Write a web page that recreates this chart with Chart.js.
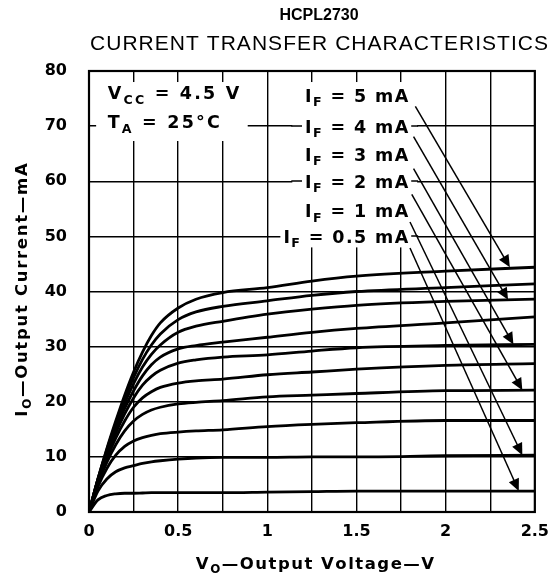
<!DOCTYPE html>
<html>
<head>
<meta charset="utf-8">
<script src="https://cdn.jsdelivr.net/npm/chart.js@4.4.1/dist/chart.umd.min.js"></script>
<style>
  html, body { margin: 0; padding: 0; background: #fff; }
  canvas { display: block; }
</style>
</head>
<body>
<canvas id="ctc" width="559" height="579"></canvas>
<script>
// output voltage samples (V), shared by every curve
const voltages = [0, 0.05, 0.1, 0.15, 0.2, 0.25, 0.3, 0.35, 0.4, 0.5, 0.6, 0.75, 1, 1.25, 1.5, 2, 2.5];

// output current (mA), one list per forward current
const io_5mA   = [0, 6.0, 11.5, 16.5, 21.2, 25.4, 29.0, 32.0, 34.3, 37.0, 38.6, 39.8, 40.7, 41.9, 42.8, 43.7, 44.4];
const io_4_5mA = [0, 6.0, 11.3, 16.0, 20.5, 24.4, 27.7, 30.3, 32.3, 34.9, 36.3, 37.3, 38.3, 39.3, 40.0, 40.7, 41.4];
const io_4mA   = [0, 5.9, 11.0, 15.5, 19.7, 23.3, 26.3, 28.6, 30.3, 32.6, 33.7, 34.6, 35.9, 36.8, 37.5, 38.2, 38.6];
const io_3_5mA = [0, 5.8, 10.6, 15.0, 18.8, 22.0, 24.7, 26.7, 28.1, 29.6, 30.2, 30.8, 31.7, 32.6, 33.3, 34.3, 35.4];
const io_3mA   = [0, 5.6, 10.2, 14.3, 17.8, 20.7, 23.0, 24.6, 25.7, 27.0, 27.6, 28.1, 28.5, 29.2, 29.8, 30.2, 30.4];
const io_2_5mA = [0, 5.4, 9.7, 13.4, 16.5, 19.0, 20.7, 21.8, 22.6, 23.4, 23.8, 24.1, 24.9, 25.4, 25.9, 26.6, 26.9];
const io_2mA   = [0, 5.1, 9.0, 12.2, 14.7, 16.5, 17.7, 18.5, 19.0, 19.6, 19.9, 20.2, 20.9, 21.2, 21.5, 22.0, 22.1];
const io_1_5mA = [0, 4.6, 7.9, 10.3, 11.9, 12.9, 13.5, 13.9, 14.2, 14.5, 14.7, 14.9, 15.5, 15.9, 16.2, 16.6, 16.6];
const io_1mA   = [0, 3.8, 6.0, 7.3, 8.0, 8.4, 8.8, 9.1, 9.3, 9.6, 9.8, 9.9, 9.9, 10.0, 10.0, 10.2, 10.3];
const io_0_5mA = [0, 2.2, 3.0, 3.3, 3.4, 3.4, 3.45, 3.5, 3.5, 3.5, 3.5, 3.5, 3.6, 3.7, 3.8, 3.8, 3.8];

const forwardCurrents = ['5', '4.5', '4', '3.5', '3', '2.5', '2', '1.5', '1', '0.5'];
const currentSeries = [io_5mA, io_4_5mA, io_4mA, io_3_5mA, io_3mA, io_2_5mA, io_2mA, io_1_5mA, io_1mA, io_0_5mA];

const xTickLabels = ['0', '0.5', '1', '1.5', '2', '2.5'];
const yTickLabels = ['0', '10', '20', '30', '40', '50', '60', '70', '80'];

// labelled curves and where their leader arrows run (data units)
const labelledIF   = ['5', '4', '3', '2', '1', '0.5'];
const labelMidY    = [75.6, 70, 64.9, 60, 54.7, 50];
const arrowStartX  = [1.83, 1.82, 1.82, 1.81, 1.80, 1.80];
const arrowStartY  = [73.6, 68.1, 62.3, 57.6, 52.6, 47.9];
const arrowEndX    = [2.36, 2.35, 2.38, 2.43, 2.43, 2.41];
const arrowEndY    = [44.4, 38.5, 30.4, 22.1, 10.3, 3.8];

const FONT = '"DejaVu Sans", sans-serif';

function partFont(p, size) {
  return 'bold ' + (p.sub ? size * 0.72 : size) + 'px ' + FONT;
}

function richWidth(ctx, parts, size, spacing) {
  let w = 0;
  for (const p of parts) {
    ctx.font = partFont(p, size);
    for (const ch of p.t) w += ctx.measureText(ch).width + spacing;
  }
  return w - spacing;
}

// midY = middle of the capitals
function drawRich(ctx, parts, x, midY, size, spacing, align, bg) {
  const w = richWidth(ctx, parts, size, spacing);
  let cx = align === 'right' ? x - w : align === 'center' ? x - w / 2 : x;
  if (bg) {
    ctx.fillStyle = '#fff';
    ctx.fillRect(cx - 3, midY - size * 0.48, w + 6, size * 1.05);
  }
  ctx.fillStyle = '#000';
  ctx.textAlign = 'left';
  ctx.textBaseline = 'alphabetic';
  for (const p of parts) {
    ctx.font = partFont(p, size);
    const base = midY + size * 0.365 + (p.sub ? size * 0.27 : 0);
    for (const ch of p.t) {
      ctx.fillText(ch, cx, base);
      cx += ctx.measureText(ch).width + spacing;
    }
  }
}

function spacedText(ctx, text, left, right, baseline) {
  let w = 0;
  for (const ch of text) w += ctx.measureText(ch).width;
  const gap = (right - left - w) / (text.length - 1);
  let cx = left;
  for (const ch of text) {
    ctx.fillText(ch, cx, baseline);
    cx += ctx.measureText(ch).width + gap;
  }
}

const decor = {
  id: 'decor',
  beforeDatasetsDraw(chart) {
    const { ctx, scales: { x, y } } = chart;
    ctx.save();
    ctx.fillStyle = '#fff';
    // blank the grid behind the two text blocks
    ctx.fillRect(x.getPixelForValue(0.04), y.getPixelForValue(78), x.getPixelForValue(0.89) - x.getPixelForValue(0.04), y.getPixelForValue(67.3) - y.getPixelForValue(78));
    const bx0 = x.getPixelForValue(1.14), bx1 = x.getPixelForValue(1.84);
    ctx.fillRect(bx0, y.getPixelForValue(78), bx1 - bx0, y.getPixelForValue(48) - y.getPixelForValue(78));
    ctx.strokeStyle = '#000';
    ctx.lineWidth = 1.4;
    [50, 60, 70].forEach(v => {
      const py = Math.round(y.getPixelForValue(v));
      ctx.beginPath();
      ctx.moveTo(bx0 - 1, py);
      ctx.lineTo(bx1 + 1, py);
      ctx.stroke();
    });
    ctx.restore();
  },
  afterDatasetsDraw(chart) {
    const { ctx, chartArea: a, scales: { x, y } } = chart;
    ctx.save();

    // leader arrows
    ctx.strokeStyle = '#000';
    ctx.fillStyle = '#000';
    ctx.lineWidth = 1.5;
    labelledIF.forEach((f, i) => {
      const x0 = x.getPixelForValue(arrowStartX[i]), y0 = y.getPixelForValue(arrowStartY[i]);
      const x1 = x.getPixelForValue(arrowEndX[i]), y1 = y.getPixelForValue(arrowEndY[i]);
      const ang = Math.atan2(y1 - y0, x1 - x0);
      ctx.beginPath();
      ctx.moveTo(x0, y0);
      ctx.lineTo(x1 - 8 * Math.cos(ang), y1 - 8 * Math.sin(ang));
      ctx.stroke();
      ctx.beginPath();
      ctx.moveTo(x1, y1);
      ctx.lineTo(x1 - 12 * Math.cos(ang) + 5.5 * Math.sin(ang), y1 - 12 * Math.sin(ang) - 5.5 * Math.cos(ang));
      ctx.lineTo(x1 - 12 * Math.cos(ang) - 5.5 * Math.sin(ang), y1 - 12 * Math.sin(ang) + 5.5 * Math.cos(ang));
      ctx.closePath();
      ctx.fill();
    });

    // curve labels
    const lx = x.getPixelForValue(1.79);
    labelledIF.forEach((f, i) => {
      drawRich(ctx, [{ t: 'I' }, { t: 'F', sub: true }, { t: ' = ' + f + ' mA' }], lx, y.getPixelForValue(labelMidY[i]), 17.5, 1.4, 'right', true);
    });

    // conditions
    const cx = x.getPixelForValue(0.105);
    drawRich(ctx, [{ t: 'V' }, { t: 'CC', sub: true }, { t: ' = 4.5 V' }], cx, y.getPixelForValue(76), 17.5, 2.2, 'left', false);
    drawRich(ctx, [{ t: 'T' }, { t: 'A', sub: true }, { t: ' = 25°C' }], cx, y.getPixelForValue(70.8), 17.5, 2.2, 'left', false);

    // frame
    ctx.lineWidth = 2.2;
    ctx.strokeRect(a.left, a.top, a.right - a.left, a.bottom - a.top);
    ctx.restore();
  },
  afterDraw(chart) {
    const { ctx } = chart;
    ctx.save();
    ctx.fillStyle = '#000';
    ctx.textAlign = 'center';
    ctx.textBaseline = 'alphabetic';
    ctx.font = 'bold 16px "Liberation Sans", Arial, sans-serif';
    ctx.fillText('HCPL2730', 319, 20);
    ctx.textAlign = 'left';
    ctx.font = '21px "Liberation Sans", Arial, sans-serif';
    spacedText(ctx, 'CURRENT TRANSFER CHARACTERISTICS', 90, 548, 50);

    // axis titles
    drawRich(ctx, [{ t: 'V' }, { t: 'O', sub: true }, { t: '\u2014Output Voltage\u2014V' }], 315, 563, 16.5, 1.5, 'center', false);
    ctx.translate(21, 290);
    ctx.rotate(-Math.PI / 2);
    drawRich(ctx, [{ t: 'I' }, { t: 'O', sub: true }, { t: '\u2014Output Current\u2014mA' }], 0, 0, 16.5, 1.7, 'center', false);
    ctx.restore();
  }
};

const tickFont = { family: FONT, size: 16, weight: 'bold' };

new Chart(document.getElementById('ctc').getContext('2d'), {
  type: 'line',
  data: {
    datasets: currentSeries.map((series, k) => ({
      label: 'IF = ' + forwardCurrents[k] + ' mA',
      data: voltages.map((v, i) => ({ x: v, y: series[i] })),
      borderColor: '#000',
      borderWidth: 2.8,
      pointRadius: 0,
      fill: false,
      cubicInterpolationMode: 'monotone'
    }))
  },
  options: {
    responsive: false,
    animation: false,
    layout: { padding: { top: 71, right: 16, left: 0, bottom: 0 } },
    plugins: { legend: { display: false }, tooltip: { enabled: false } },
    scales: {
      x: {
        type: 'linear', min: 0, max: 2.5,
        afterFit: s => { s.height = 67; },
        grid: { color: '#000', lineWidth: 1.4, drawTicks: false },
        border: { display: true, color: '#000', width: 2 },
        ticks: {
          stepSize: 0.25, autoSkip: false, maxRotation: 0, padding: 10,
          color: '#000', font: tickFont,
          callback: v => (Math.round(v * 4) % 2 === 0 ? xTickLabels[Math.round(v * 2)] : '')
        }
      },
      y: {
        min: 0, max: 80,
        afterFit: s => { s.width = 89; },
        grid: { color: '#000', lineWidth: 1.4, drawTicks: false },
        border: { display: true, color: '#000', width: 2 },
        ticks: {
          stepSize: 10, padding: 22, color: '#000', font: tickFont,
          callback: v => yTickLabels[Math.round(v / 10)]
        }
      }
    }
  },
  plugins: [decor]
});
</script>
</body>
</html>
